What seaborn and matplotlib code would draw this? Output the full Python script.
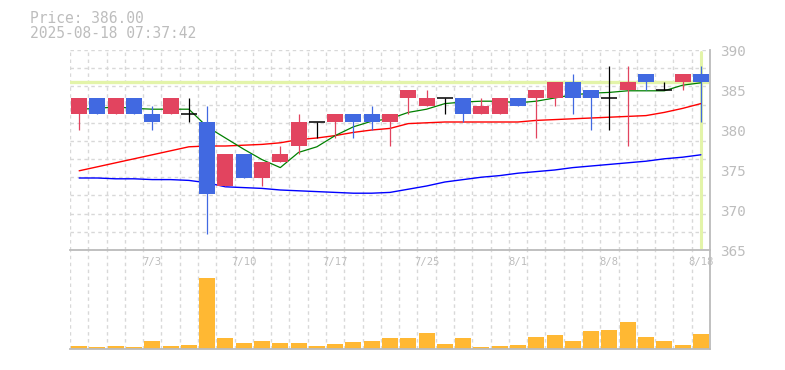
import numpy as np
import pandas as pd
import matplotlib
matplotlib.use("Agg")
import matplotlib.pyplot as plt
import seaborn as sns

# ---------------- data ----------------
dates = ["6/27", "6/30", "7/1", "7/2", "7/3", "7/4", "7/7", "7/8", "7/9", "7/10",
         "7/11", "7/14", "7/15", "7/16", "7/17", "7/18", "7/22", "7/23", "7/24", "7/25",
         "7/28", "7/29", "7/30", "7/31", "8/1", "8/4", "8/5", "8/6", "8/7", "8/8",
         "8/12", "8/13", "8/14", "8/15", "8/18"]
opens = [382, 384, 382, 384, 382, 382, 382, 381, 373, 377, 374, 376, 378, 381, 381,
         382, 382, 381, 384, 383, 384, 384, 382, 382, 384, 384, 384, 386, 385, 384,
         385, 387, 385, 386, 387]
closes = [384, 382, 384, 382, 381, 384, 382, 372, 377, 374, 376, 377, 381, 381, 382,
          381, 381, 382, 385, 384, 384, 382, 383, 384, 383, 385, 386, 384, 384, 384,
          386, 386, 385, 387, 386]
highs = [384, 384, 384, 384, 383, 384, 384, 383, 377, 377, 376, 378, 382, 381, 382,
         382, 383, 382, 385, 385, 384, 384, 384, 384, 384, 385, 386, 387, 385, 388,
         388, 387, 386, 387, 388]
lows = [380, 382, 382, 382, 380, 382, 381, 367, 373, 374, 373, 376, 377, 379, 379,
        379, 380, 378, 382, 383, 382, 381, 382, 382, 383, 379, 383, 382, 380, 380,
        378, 385, 385, 385, 381]
ma_short = [382.6, 382.7, 382.9, 382.7, 382.6, 382.6, 382.6, 380.4, 379.0, 377.6,
            376.3, 375.3, 377.2, 377.9, 379.3, 380.4, 381.1, 381.4, 382.2, 382.6,
            383.3, 383.5, 383.6, 383.6, 383.4, 383.6, 384.0, 384.4, 384.6, 384.7,
            384.9, 384.9, 384.9, 385.6, 385.9]
ma_mid = [374.9, 375.4, 375.9, 376.4, 376.9, 377.4, 377.9, 378.0, 378.0, 378.1,
          378.2, 378.4, 378.8, 379.0, 379.3, 379.7, 380.0, 380.2, 380.8, 380.9,
          381.0, 381.0, 381.0, 381.0, 381.0, 381.2, 381.3, 381.4, 381.5, 381.6,
          381.7, 381.8, 382.2, 382.7, 383.3]
ma_long = [374.0, 374.0, 373.9, 373.9, 373.8, 373.8, 373.7, 373.4, 372.9, 372.8,
           372.7, 372.5, 372.4, 372.3, 372.2, 372.1, 372.1, 372.2, 372.6, 373.0,
           373.5, 373.8, 374.1, 374.3, 374.6, 374.8, 375.0, 375.3, 375.5, 375.7,
           375.9, 376.1, 376.4, 376.6, 376.9]
volume = [3, 2, 3, 2, 8, 3, 4, 71, 11, 6, 8, 6, 6, 3, 5, 7, 8, 11, 11, 16,
          5, 11, 2, 3, 4, 12, 14, 8, 18, 19, 27, 12, 8, 4, 15]
price_ticks = [365, 370, 375, 380, 385, 390]
current_price = 386.00
timestamp = "2025-08-18 07:37:42"
label_every = 5
label_start = 4

# ---------------- styling ----------------
sns.set_style("white")
plt.rcParams["font.family"] = ["DejaVu Sans Mono", "DejaVu Sans"]

UP = "#e2445f"
DOWN = "#4169e1"
VOLC = "#ffb833"
HIL = "#e3f4a9"
GRID = "#d8d8d8"
AXC = "#bbbbbb"
TXT = "#bdbdbd"

df = pd.DataFrame({"idx": np.arange(len(dates)), "date": dates, "open": opens,
                   "close": closes, "high": highs, "low": lows,
                   "ma_short": ma_short, "ma_mid": ma_mid, "ma_long": ma_long,
                   "volume": volume})
n = len(df)

fig = plt.figure(figsize=(7.85, 3.70), dpi=100)
W, H = 785.0, 370.0
ax = fig.add_axes([70 / W, 120 / H, 640 / W, 200 / H])
axv = fig.add_axes([70 / W, 21.5 / H, 640 / W, 98.5 / H])
for a in (ax, axv):
    a.set_facecolor("none")

# ---------------- price panel ----------------
ax.set_xlim(-0.5, n - 0.5)
ax.set_ylim(price_ticks[0], price_ticks[-1])
dash = (0, (2.5, 2.5))
ax.vlines(np.arange(n + 1) - 0.5, price_ticks[0], price_ticks[-1], colors=GRID,
          linestyles=[dash], lw=1, zorder=0)
ax.hlines(np.linspace(price_ticks[0], price_ticks[-1], 12), -0.5, n - 0.5,
          colors=GRID, linestyles=[dash], lw=1, zorder=0)

ax.axhline(current_price, color=HIL, lw=2.4, zorder=1)
ax.axvline(n - 1, ymin=0.01, ymax=0.99, color=HIL, lw=2.2, zorder=1)

sns.lineplot(data=df, x="idx", y="ma_long", ax=ax, color="blue", lw=1.0, zorder=2)
sns.lineplot(data=df, x="idx", y="ma_mid", ax=ax, color="red", lw=1.0, zorder=2)
sns.lineplot(data=df, x="idx", y="ma_short", ax=ax, color="green", lw=0.9, zorder=2)

bw = 0.875
for _, r in df.iterrows():
    if r["close"] > r["open"]:
        c = UP
    elif r["close"] < r["open"]:
        c = DOWN
    else:
        c = "black"
    ax.vlines(r["idx"], r["low"], r["high"], colors=c, lw=0.9, zorder=3)
    if c == "black":
        ax.hlines(r["open"], r["idx"] - bw / 2, r["idx"] + bw / 2, colors=c,
                  lw=1.1, zorder=4)
    else:
        ax.bar(r["idx"], r["close"] - r["open"], bottom=r["open"], width=bw,
               color=c, linewidth=0, zorder=4)

ax.set_xlabel("")
ax.set_ylabel("")
ax.yaxis.tick_right()
ax.set_yticks(price_ticks)
ax.set_yticklabels([str(t) for t in price_ticks])
ax.tick_params(axis="y", length=0, pad=7.5, labelsize=10.3, labelcolor=TXT)
tick_pos = list(range(label_start, n, label_every))
ax.set_xticks(tick_pos)
ax.set_xticklabels([dates[i] for i in tick_pos])
ax.tick_params(axis="x", length=0, pad=5, labelsize=7.6, labelcolor=TXT)
for s in ("left", "top"):
    ax.spines[s].set_visible(False)
for s in ("right", "bottom"):
    ax.spines[s].set_visible(True)
    ax.spines[s].set_color(AXC)
    ax.spines[s].set_linewidth(1.3)

# ---------------- volume panel ----------------
axv.vlines(np.arange(n + 1) - 0.5, 0, max(volume) * 1.39, colors=GRID,
           linestyles=[dash], lw=1, zorder=0)
sns.barplot(data=df, x="idx", y="volume", ax=axv, color=VOLC, width=bw,
            saturation=1, linewidth=0, zorder=2)
axv.set_xlim(-0.5, n - 0.5)
axv.set_ylim(0, max(volume) * 1.39)
axv.set_xticks([])
axv.set_yticks([])
axv.set_xlabel("")
axv.set_ylabel("")
for s in ("left", "top"):
    axv.spines[s].set_visible(False)
for s in ("right", "bottom"):
    axv.spines[s].set_visible(True)
    axv.spines[s].set_color(AXC)
    axv.spines[s].set_linewidth(1.3)
ax.set_zorder(3)

# ---------------- header ----------------
fig.text(30 / W, 1 - 18.5 / H, f"Price: {current_price:.2f}", fontsize=10.5,
         color=TXT, va="center", ha="left")
fig.text(30 / W, 1 - 33.5 / H, timestamp, fontsize=10.5, color=TXT,
         va="center", ha="left")

fig.savefig("out.png", dpi=100, facecolor="white")
